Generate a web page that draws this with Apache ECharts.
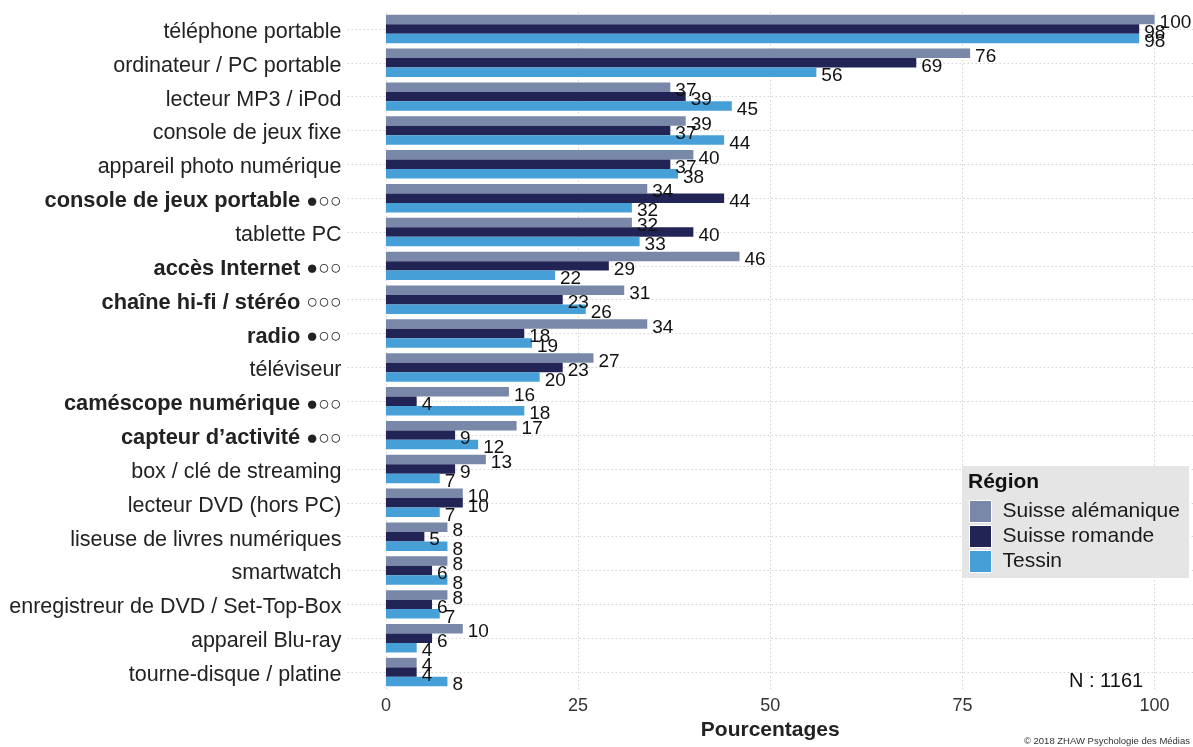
<!DOCTYPE html>
<html>
<head>
<meta charset="utf-8">
<script src="https://cdn.jsdelivr.net/npm/echarts@6/dist/echarts.min.js"></script>
<style>
  html, body { margin: 0; padding: 0; background: #ffffff; }
  #chart { width: 1193px; height: 747px; }
</style>
</head>
<body>
<div id="chart"></div>
<script>
// Equipment categories (top to bottom)
const categories = [
  'téléphone portable',
  'ordinateur / PC portable',
  'lecteur MP3 / iPod',
  'console de jeux fixe',
  'appareil photo numérique',
  'console de jeux portable',
  'tablette PC',
  'accès Internet',
  'chaîne hi-fi / stéréo',
  'radio',
  'téléviseur',
  'caméscope numérique',
  'capteur d\u2019activité',
  'box / clé de streaming',
  'lecteur DVD (hors PC)',
  'liseuse de livres numériques',
  'smartwatch',
  'enregistreur de DVD / Set-Top-Box',
  'appareil Blu-ray',
  'tourne-disque / platine'
];

// Significance markers shown after the category name (bold when present)
const markers = [
  '', '', '', '', '', '●○○', '', '●○○', '○○○', '●○○',
  '', '●○○', '●○○', '', '', '', '', '', '', ''
];

// Percentages per region
const suisseAlemanique = [100, 76, 37, 39, 40, 34, 32, 46, 31, 34, 27, 16, 17, 13, 10, 8, 8, 8, 10, 4];
const suisseRomande    = [98, 69, 39, 37, 37, 44, 40, 29, 23, 18, 23, 4, 9, 9, 10, 5, 6, 6, 6, 4];
const tessin           = [98, 56, 45, 44, 38, 32, 33, 22, 26, 19, 20, 18, 12, 7, 7, 8, 8, 7, 4, 8];

const regionNames = ['Suisse alémanique', 'Suisse romande', 'Tessin'];
const regionColors = ['#7987a8', '#232456', '#469fd6'];
const xTicks = [0, 25, 50, 75, 100];

const FONT = '"Liberation Sans", Arial, Helvetica, sans-serif';
const gridStyle = { color: '#d4d4d4', width: 1, type: [1.5, 2.5] };

const chart = echarts.init(document.getElementById('chart'), null, { renderer: 'canvas' });

function barSeries(name, data, color) {
  return {
    name: name,
    type: 'bar',
    data: data,
    z: 3,
    barGap: '0%',
    barCategoryGap: '16%',
    itemStyle: { color: color },
    label: {
      show: true,
      position: 'right',
      distance: 5,
      offset: [0, 3.5],
      color: '#111111',
      fontFamily: FONT,
      fontSize: 19
    },
    emphasis: { disabled: true }
  };
}

const option = {
  animation: false,
  backgroundColor: '#ffffff',
  textStyle: { fontFamily: FONT },
  grid: { left: 347.5, right: 0, top: 12, bottom: 58, containLabel: false },
  xAxis: {
    type: 'value',
    min: -5,
    max: 105,
    axisLine: { show: false },
    axisTick: { show: false },
    splitLine: { show: false },
    axisLabel: {
      customValues: xTicks,
      fontSize: 18,
      color: '#333333',
      margin: 8,
      fontFamily: FONT
    },
    name: 'Pourcentages',
    nameLocation: 'middle',
    nameGap: 19,
    nameTextStyle: { fontSize: 21, fontWeight: 'bold', color: '#222222', fontFamily: FONT }
  },
  yAxis: {
    type: 'category',
    inverse: true,
    data: categories,
    axisLine: { show: false },
    axisTick: { show: false },
    splitLine: { show: false },
    axisLabel: {
      interval: 0,
      margin: 6,
      padding: [6, 0, 0, 0],
      fontSize: 21.5,
      color: '#222222',
      fontFamily: FONT,
      formatter: function (value, idx) {
        const m = markers[idx];
        return m ? '{b|' + value + '} {d|' + m + '}' : value;
      },
      rich: {
        b: { fontWeight: 'bold', fontSize: 21.8, color: '#222222', fontFamily: FONT },
        d: { fontSize: 19.5, color: '#222222', fontFamily: FONT }
      }
    }
  },
  legend: {
    orient: 'vertical',
    left: 969,
    top: 500,
    padding: 0,
    z: 10,
    itemWidth: 22,
    itemHeight: 22,
    itemGap: 2,
    icon: 'rect',
    selectedMode: false,
    itemStyle: { borderColor: '#ffffff', borderWidth: 1 },
    textStyle: { fontSize: 21, color: '#1a1a1a', fontFamily: FONT, lineHeight: 22, padding: [0, 0, 0, 6] },
    data: regionNames
  },
  graphic: [
    {
      type: 'rect',
      left: 962, top: 466, z: 5,
      shape: { width: 227, height: 112 },
      style: { fill: '#e5e5e5' }
    },
    {
      type: 'text',
      left: 968, top: 472, z: 10,
      style: { text: 'Région', font: 'bold 21px ' + FONT, fill: '#111111' }
    },
    {
      type: 'text',
      left: 1069, top: 671, z: 10,
      style: { text: 'N : 1161', font: '20px ' + FONT, fill: '#111111' }
    },
    {
      type: 'text',
      right: 3, top: 736, z: 10,
      style: { text: '© 2018 ZHAW Psychologie des Médias', font: '9.5px ' + FONT, fill: '#333333' }
    }
  ],
  series: [
    {
      // dotted reference grid drawn beneath the bars
      type: 'scatter',
      data: [],
      z: 1,
      silent: true,
      markLine: {
        silent: true,
        z: 1,
        symbol: ['none', 'none'],
        label: { show: false },
        lineStyle: gridStyle,
        emphasis: { disabled: true },
        data: categories.map(c => ({ yAxis: c })).concat(xTicks.map(v => ({ xAxis: v })))
      }
    },
    barSeries(regionNames[0], suisseAlemanique, regionColors[0]),
    barSeries(regionNames[1], suisseRomande, regionColors[1]),
    barSeries(regionNames[2], tessin, regionColors[2])
  ]
};

chart.setOption(option);
</script>
</body>
</html>
